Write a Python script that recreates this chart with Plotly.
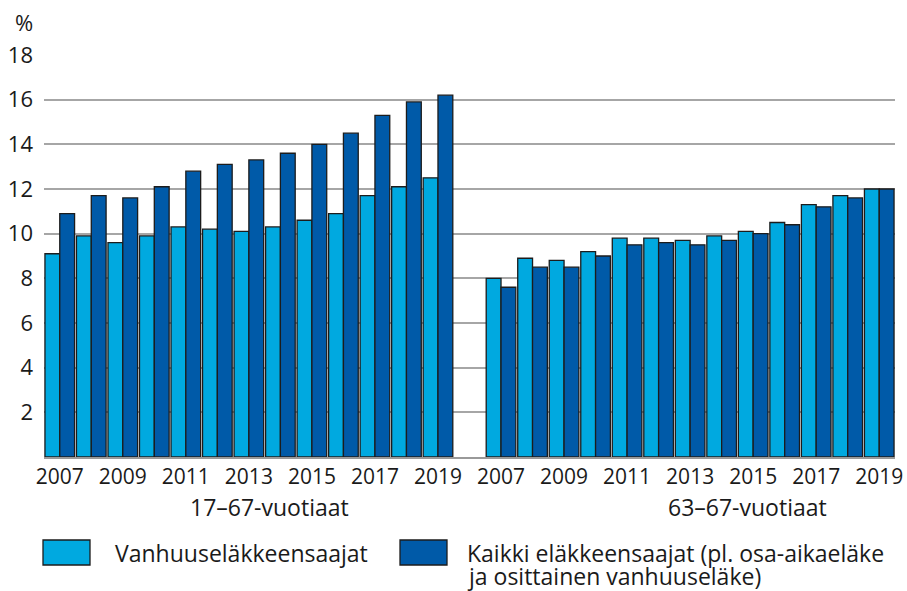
import plotly.graph_objects as go

# ---------------- data ----------------
years = [2007, 2008, 2009, 2010, 2011, 2012, 2013, 2014, 2015, 2016, 2017, 2018, 2019]
tick_years = ["2007", "2009", "2011", "2013", "2015", "2017", "2019"]
group_labels = ["17–67-vuotiaat", "63–67-vuotiaat"]
series_names = ["Vanhuuseläkkeensaajat",
                "Kaikki eläkkeensaajat (pl. osa-aikaeläke",
                "ja osittainen vanhuuseläke)"]

old_age_17_67 = [9.1, 9.9, 9.6, 9.9, 10.3, 10.2, 10.1, 10.3, 10.6, 10.9, 11.7, 12.1, 12.5]
all_17_67 = [10.9, 11.7, 11.6, 12.1, 12.8, 13.1, 13.3, 13.6, 14.0, 14.5, 15.3, 15.9, 16.2]
old_age_63_67 = [8.0, 8.9, 8.8, 9.2, 9.8, 9.8, 9.7, 9.9, 10.1, 10.5, 11.3, 11.7, 12.0]
all_63_67 = [7.6, 8.5, 8.5, 9.0, 9.5, 9.6, 9.5, 9.7, 10.0, 10.4, 11.2, 11.6, 12.0]

y_ticks = [2, 4, 6, 8, 10, 12, 14, 16, 18]

# ---------------- styling ----------------
LIGHT = "#00A9E0"
DARK = "#005AA8"
EDGE = "#1c1c1c"
TXT = "#1a1a1a"
FONT = "Open Sans, sans-serif"

n = len(years)
x_left = list(range(n))
x_right = [i + n + 1 for i in range(n)]
x_all = x_left + x_right

fig = go.Figure()
fig.add_trace(go.Bar(
    x=x_all, y=old_age_17_67 + old_age_63_67, name=series_names[0],
    marker=dict(color=LIGHT, line=dict(color=EDGE, width=1.3)),
    showlegend=False,
))
fig.add_trace(go.Bar(
    x=x_all, y=all_17_67 + all_63_67, name=series_names[1] + " " + series_names[2],
    marker=dict(color=DARK, line=dict(color=EDGE, width=1.3)),
    showlegend=False,
))

tickvals = [x_left[i] for i in range(0, n, 2)] + [x_right[i] for i in range(0, n, 2)]
ticktext = tick_years + tick_years

# page body margin is removed (post_script), so figure pixels == window pixels
W, H = 907, 591
# plot area in window pixels: x 44..895, y 55..457
PX0, PX1, PY0, PY1 = 44, 895, 55, 457
L, R, T, B = PX0, W - PX1, PY0, H - PY1
PW, PH = PX1 - PX0, PY1 - PY0


def px(x):
    return (x - PX0) / PW


def py(y):
    return (PY1 - y) / PH


fig.update_layout(
    width=W, height=H,
    margin=dict(l=L, r=R, t=T, b=B, autoexpand=False),
    paper_bgcolor="white", plot_bgcolor="white",
    barmode="group", bargap=0.06, bargroupgap=0.0,
    font=dict(family=FONT, size=23, color=TXT),
    xaxis=dict(
        range=[-0.5, 2 * n + 0.5],
        tickvals=tickvals, ticktext=ticktext,
        showgrid=False, zeroline=False,
        showline=True, linecolor="#999999", linewidth=1.5,
        ticks="", tickfont=dict(size=21, color=TXT),
        ticklabelstandoff=0, automargin=False,
    ),
    yaxis=dict(
        range=[0, 18],
        tickvals=y_ticks,
        showgrid=True, gridcolor="#a6a6a6", gridwidth=1.5,
        zeroline=False, showline=False,
        ticks="", tickfont=dict(size=22, color=TXT),
        ticklabelstandoff=10, automargin=False,
    ),
)

annotations = [
    dict(text="%", x=px(24), y=py(22), xanchor="center", yanchor="middle", font=dict(size=22)),
    dict(text=group_labels[0], x=px(269), y=py(507), xanchor="center", yanchor="middle"),
    dict(text=group_labels[1], x=px(747), y=py(507), xanchor="center", yanchor="middle"),
    dict(text=series_names[0], x=px(113), y=py(553), xanchor="left", yanchor="middle"),
    dict(text=series_names[1], x=px(465), y=py(553), xanchor="left", yanchor="middle"),
    dict(text=series_names[2], x=px(465), y=py(576), xanchor="left", yanchor="middle"),
]
for a in annotations:
    a.update(xref="paper", yref="paper", showarrow=False)
    a.setdefault("font", dict(size=23))
fig.update_layout(annotations=annotations)

shapes = [
    dict(type="rect", x0=px(43), x1=px(90), y0=py(565), y1=py(540),
         fillcolor=LIGHT, line=dict(color=EDGE, width=1.3)),
    dict(type="rect", x0=px(400), x1=px(447), y0=py(565), y1=py(540),
         fillcolor=DARK, line=dict(color=EDGE, width=1.3)),
]
for s in shapes:
    s.update(xref="paper", yref="paper")
fig.update_layout(shapes=shapes)

fig.write_html(
    "out.html",
    config={"displayModeBar": False},
    post_script="document.body.style.margin='0px';document.body.style.overflow='hidden';",
)
